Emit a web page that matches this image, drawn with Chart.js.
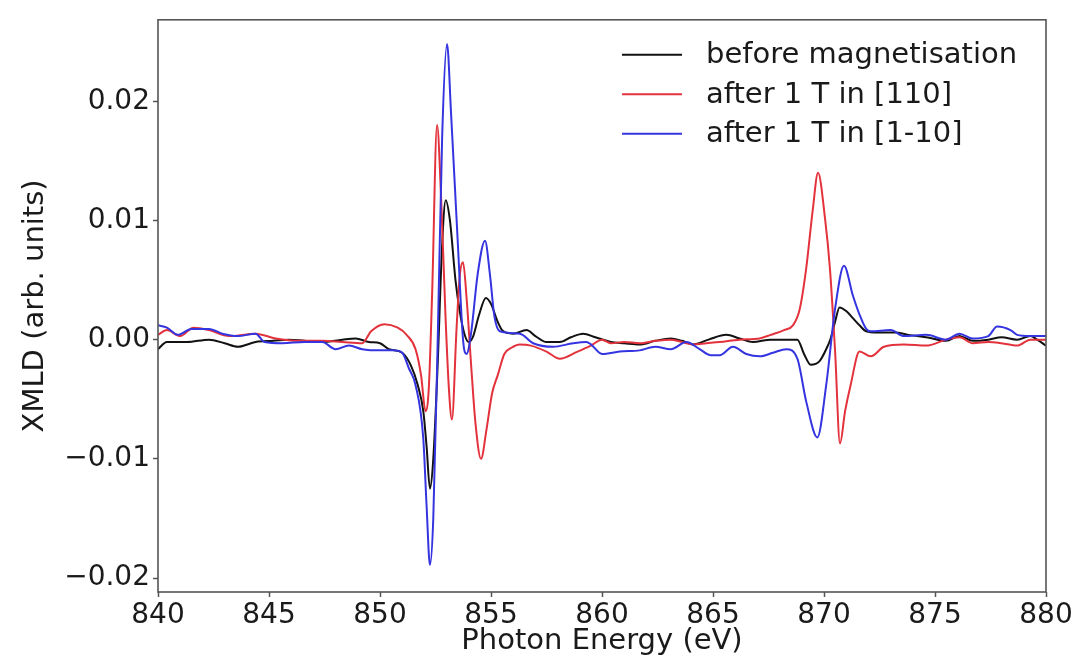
<!DOCTYPE html>
<html>
<head>
<meta charset="utf-8">
<title>XMLD spectra</title>
<script src="https://cdn.jsdelivr.net/npm/chart.js@4.4.1/dist/chart.umd.min.js"></script>
<style>
  html, body { margin: 0; padding: 0; background: #fff; }
  #wrap { width: 1075px; height: 662px; position: relative; }
</style>
</head>
<body>
<div id="wrap"><canvas id="xmldChart"></canvas></div>
<script>
const FONT = "'DejaVu Sans', 'Liberation Sans', sans-serif";
const TEXT_COLOR = "#1a1a1a";

const SERIES_LABELS = ["before magnetisation", "after 1 T in [110]", "after 1 T in [1-10]"];
const SERIES_COLORS = ["#111111", "#e3323c", "#3434e0"];

const X_TICKS = [840, 845, 850, 855, 860, 865, 870, 875, 880];
const Y_TICKS = [-0.02, -0.01, 0, 0.01, 0.02];
const Y_TICK_LABELS = ["\u22120.02", "\u22120.01", "0.00", "0.01", "0.02"];

// before magnetisation
const energyBefore = [
  840.0, 840.4, 841.3, 842.3, 843.0, 843.6, 844.4, 845.2, 845.9, 846.6,
  847.4, 848.3, 848.9, 849.5, 850.0, 850.4, 851.0, 851.4, 851.7, 851.95,
  852.1, 852.25, 852.4, 852.6, 852.8, 852.96, 853.15, 853.4, 853.6, 853.8,
  854.0, 854.2, 854.45, 854.77, 855.0, 855.3, 855.5, 856.0, 856.6, 857.0,
  857.5, 858.1, 858.6, 859.15, 859.7, 860.4, 861.0, 861.7, 862.4, 863.1,
  863.6, 864.1, 864.8, 865.6, 866.2, 866.8, 867.6, 868.3, 868.8, 869.1,
  869.4, 869.8, 870.1, 870.3, 870.5, 870.7, 871.0, 871.3, 871.6, 871.9,
  872.4, 873.2, 873.8, 874.6, 875.5, 876.1, 876.7, 877.4, 878.0, 878.7,
  879.3, 879.6, 880.0
];
const xmldBefore = [
  -0.0008, -0.0002, -0.0002, 0.0000, -0.0003, -0.0006, -0.0002, -0.0001, 0.0000, -0.0001,
  -0.0002, 0.0000, 0.0001, -0.0002, -0.0003, -0.0008, -0.0011, -0.0022, -0.0038, -0.0060,
  -0.0090, -0.0125, -0.0100, -0.0020, 0.0080, 0.0117, 0.0100, 0.0050, 0.0023, 0.0005,
  -0.0002, 0.0003, 0.0020, 0.0035, 0.0030, 0.0015, 0.0008, 0.0005, 0.0008, 0.0003,
  -0.0002, -0.0002, 0.0002, 0.0005, 0.0002, -0.0002, -0.0003, -0.0004, -0.0001, 0.0001,
  -0.0001, -0.0004, 0.0000, 0.0004, 0.0001, -0.0002, 0.0000, 0.0000, 0.0000, -0.0012,
  -0.0021, -0.0018, -0.0008, 0.0001, 0.0015, 0.0027, 0.0024, 0.0018, 0.0012, 0.0007,
  0.0006, 0.0006, 0.0004, 0.0002, -0.0001, 0.0003, -0.0001, 0.0000, 0.0002, 0.0000,
  0.0003, 0.0000, -0.0005
];

// after 1 T along [110]
const energy110 = [
  840.0, 840.4, 841.0, 841.6, 842.3, 843.2, 844.4, 845.3, 846.4, 847.4,
  848.3, 849.2, 849.6, 850.2, 850.8, 851.2, 851.6, 851.85, 852.05, 852.2,
  852.35, 852.57, 852.75, 852.95, 853.1, 853.24, 853.45, 853.6, 853.74, 853.9,
  854.1, 854.3, 854.55, 854.8, 855.05, 855.3, 855.6, 855.9, 856.3, 856.8,
  857.5, 858.1, 858.9, 859.5, 860.0, 860.4, 861.0, 861.7, 862.4, 863.1,
  863.6, 864.1, 864.7, 865.3, 866.2, 867.1, 867.6, 868.2, 868.6, 868.9,
  869.2, 869.5, 869.73, 870.05, 870.27, 870.5, 870.72, 870.95, 871.2, 871.6,
  872.1, 872.7, 873.6, 874.6, 875.5, 876.1, 876.7, 877.4, 878.0, 878.7,
  879.3, 880.0
];
const xmld110 = [
  0.0004, 0.0008, 0.0003, 0.0010, 0.0008, 0.0003, 0.0005, 0.0001, -0.0001, -0.0001,
  -0.0002, -0.0003, 0.0007, 0.0013, 0.0010, 0.0004, -0.0008, -0.0030, -0.0060, -0.0040,
  0.0040, 0.0180, 0.0120, 0.0020, -0.0040, -0.0067, 0.0010, 0.0055, 0.0065, 0.0035,
  -0.0020, -0.0070, -0.0100, -0.0075, -0.0045, -0.0030, -0.0012, -0.0007, -0.0004, -0.0005,
  -0.0010, -0.0016, -0.0010, -0.0005, 0.0000, -0.0003, -0.0002, -0.0003, -0.0001, 0.0000,
  -0.0002, -0.0004, -0.0003, -0.0002, 0.0000, 0.0001, 0.0004, 0.0008, 0.0012, 0.0025,
  0.0060, 0.0110, 0.0140, 0.0101, 0.0059, -0.0010, -0.0087, -0.0060, -0.0038, -0.0010,
  -0.0014, -0.0006, -0.0004, -0.0005, 0.0000, 0.0002, -0.0003, -0.0002, -0.0003, -0.0005,
  0.0000, 0.0000
];

// after 1 T along [1-10]
const energy1m10 = [
  840.0, 840.4, 840.9, 841.5, 842.3, 842.9, 843.6, 844.4, 844.8, 845.6,
  846.6, 847.4, 848.0, 848.6, 849.2, 850.0, 850.6, 851.0, 851.3, 851.6,
  851.95, 852.1, 852.25, 852.4, 852.6, 852.8, 853.02, 853.2, 853.5, 853.75,
  853.9, 854.1, 854.4, 854.73, 854.95, 855.15, 855.4, 856.3, 856.9, 857.8,
  858.7, 859.3, 859.5, 860.0, 860.8, 861.7, 862.4, 863.1, 863.8, 864.4,
  864.9, 865.3, 865.9, 866.5, 867.1, 867.7, 868.3, 868.8, 869.2, 869.7,
  870.1, 870.5, 870.9, 871.3, 871.6, 871.9, 872.1, 873.0, 873.6, 874.6,
  875.5, 876.1, 876.7, 877.4, 877.8, 878.4, 878.7, 879.3, 880.0
];
const xmld1m10 = [
  0.0012, 0.0010, 0.0004, 0.0009, 0.0009, 0.0005, 0.0003, 0.0005, -0.0002, -0.0003,
  -0.0002, -0.0002, -0.0008, -0.0005, -0.0008, -0.0009, -0.0009, -0.0011, -0.0024, -0.0038,
  -0.0083, -0.0140, -0.0189, -0.0150, 0.0000, 0.0170, 0.0248, 0.0190, 0.0083, -0.0002,
  -0.0012, 0.0005, 0.0055, 0.0083, 0.0055, 0.0020, 0.0007, 0.0005, -0.0003, -0.0006,
  -0.0003, -0.0002, -0.0004, -0.0012, -0.0010, -0.0009, -0.0006, -0.0008, -0.0002, -0.0008,
  -0.0013, -0.0013, -0.0006, -0.0012, -0.0014, -0.0011, -0.0008, -0.0016, -0.0052, -0.0082,
  -0.0038, 0.0026, 0.0062, 0.0037, 0.0021, 0.0009, 0.0007, 0.0008, 0.0003, 0.0004,
  0.0000, 0.0005, 0.0001, 0.0003, 0.0011, 0.0008, 0.0004, 0.0003, 0.0003
];

function toPoints(xs, ys) {
  return xs.map((x, i) => ({ x: x, y: ys[i] }));
}

// box around the plotting area, drawn over the curves like matplotlib spines
const frame = {
  id: "frame",
  afterDatasetsDraw(chart) {
    const { ctx, chartArea: a } = chart;
    ctx.save();
    ctx.strokeStyle = "#555";
    ctx.lineWidth = 1.6;
    ctx.strokeRect(a.left, a.top, a.right - a.left, a.bottom - a.top);
    ctx.restore();
  }
};

// legend in the upper right corner of the axes
const cornerLegend = {
  id: "cornerLegend",
  afterDraw(chart) {
    const { ctx, chartArea: a } = chart;
    const lineStart = a.right - 424;
    const textStart = a.right - 340;
    ctx.save();
    ctx.font = "29px " + FONT;
    ctx.textBaseline = "middle";
    chart.data.datasets.forEach((ds, i) => {
      const y = a.top + 35 + i * 39.5;
      ctx.strokeStyle = ds.borderColor;
      ctx.lineWidth = 2;
      ctx.beginPath();
      ctx.moveTo(lineStart, y);
      ctx.lineTo(lineStart + 60, y);
      ctx.stroke();
      ctx.fillStyle = TEXT_COLOR;
      ctx.fillText(ds.label, textStart, y + 1);
    });
    ctx.restore();
  }
};

const series = [
  toPoints(energyBefore, xmldBefore),
  toPoints(energy110, xmld110),
  toPoints(energy1m10, xmld1m10)
];

new Chart(document.getElementById("xmldChart"), {
  type: "line",
  data: {
    datasets: series.map((pts, i) => ({
      label: SERIES_LABELS[i],
      data: pts,
      borderColor: SERIES_COLORS[i],
      borderWidth: 2,
      pointRadius: 0,
      fill: false,
      cubicInterpolationMode: "monotone",
      order: 3 - i
    }))
  },
  options: {
    responsive: true,
    maintainAspectRatio: false,
    animation: false,
    layout: { padding: { top: 16, right: 29, bottom: 0, left: 0 } },
    plugins: {
      legend: { display: false },
      tooltip: { enabled: false }
    },
    scales: {
      x: {
        type: "linear",
        min: 840,
        max: 880,
        afterFit(scale) { scale.height = 70; },
        afterBuildTicks(scale) { scale.ticks = X_TICKS.map(v => ({ value: v })); },
        border: { display: false },
        grid: { drawOnChartArea: false, drawTicks: true, tickLength: 5, tickColor: "#555", tickWidth: 1.5 },
        ticks: {
          autoSkip: false,
          maxRotation: 0,
          padding: 2,
          color: TEXT_COLOR,
          font: { family: FONT, size: 28 },
          callback: (v) => String(v)
        },
        title: {
          display: true,
          text: "Photon Energy (eV)",
          color: TEXT_COLOR,
          font: { family: FONT, size: 29 },
          padding: { top: 0, bottom: 3 }
        }
      },
      y: {
        type: "linear",
        min: -0.02117,
        max: 0.02683,
        afterFit(scale) { scale.width = 158; },
        afterBuildTicks(scale) { scale.ticks = Y_TICKS.map(v => ({ value: v })); },
        border: { display: false },
        grid: { drawOnChartArea: false, drawTicks: true, tickLength: 5, tickColor: "#555", tickWidth: 1.5 },
        ticks: {
          autoSkip: false,
          padding: 3,
          color: TEXT_COLOR,
          font: { family: FONT, size: 28 },
          callback: (v, i) => Y_TICK_LABELS[i]
        },
        title: {
          display: true,
          text: "XMLD (arb. units)",
          color: TEXT_COLOR,
          font: { family: FONT, size: 29 },
          padding: { top: 18, bottom: 0 }
        }
      }
    }
  },
  plugins: [frame, cornerLegend]
});
</script>
</body>
</html>
